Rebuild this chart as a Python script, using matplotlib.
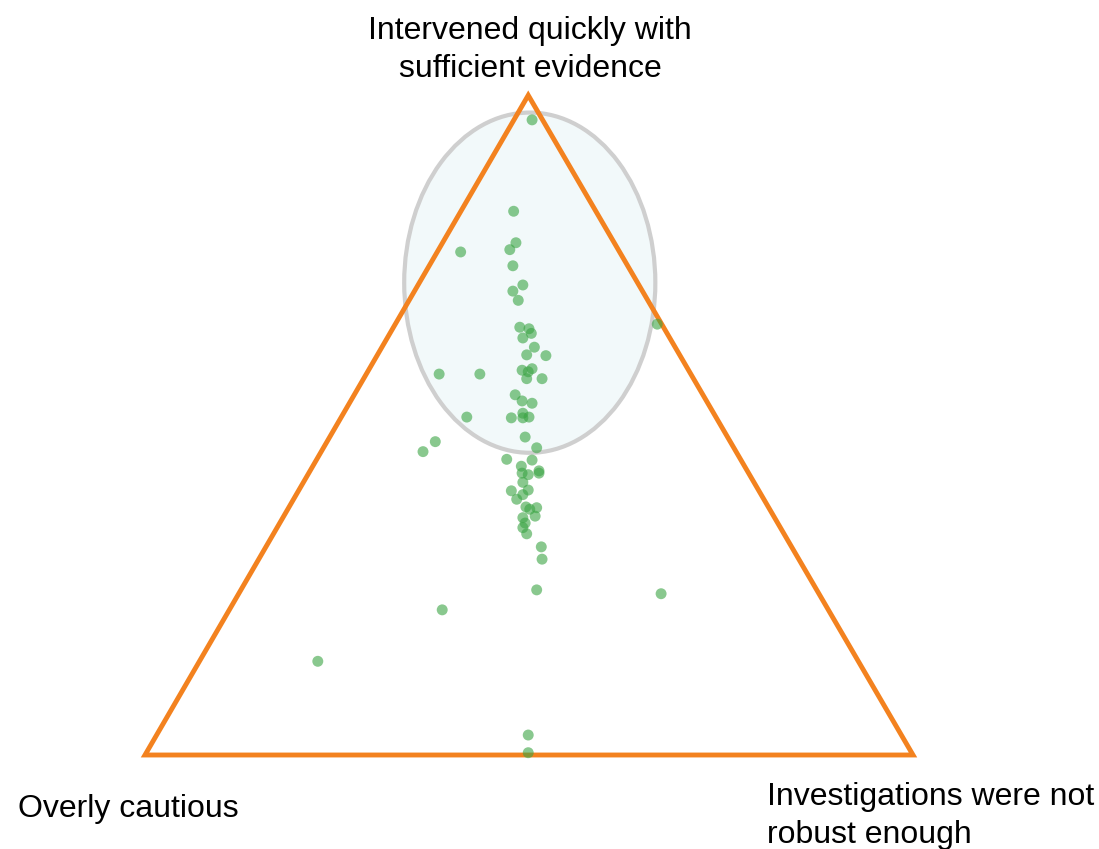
import numpy as np
import matplotlib.pyplot as plt
from matplotlib.patches import Polygon, Ellipse

plt.rcParams['font.family'] = ['Liberation Sans', 'DejaVu Sans']

# Triangle corners (base 0..1) and their labels
corner_labels = ["Overly cautious",
                 "Intervened quickly with\nsufficient evidence",
                 "Investigations were not\nrobust enough"]
corners_x = [0.0, 0.499, 1.0]
corners_y = [0.0, 0.859, 0.0]

# Responses placed inside the triangle
pts_x = [0.504, 0.480, 0.483, 0.475, 0.411, 0.479, 0.492, 0.479, 0.486, 0.488,
         0.500, 0.503, 0.492, 0.507, 0.522, 0.497, 0.383, 0.436, 0.491, 0.504,
         0.499, 0.497, 0.517, 0.667, 0.482, 0.491, 0.504, 0.419, 0.477, 0.492,
         0.492, 0.500, 0.495, 0.510, 0.378, 0.362, 0.471, 0.504, 0.490, 0.491,
         0.499, 0.513, 0.513, 0.492, 0.499, 0.477, 0.492, 0.484, 0.496, 0.510,
         0.501, 0.508, 0.492, 0.495, 0.492, 0.497, 0.516, 0.517, 0.510, 0.672,
         0.225, 0.387, 0.499, 0.499]
pts_y = [0.827, 0.708, 0.667, 0.658, 0.655, 0.637, 0.612, 0.604, 0.592, 0.557,
         0.555, 0.549, 0.543, 0.531, 0.520, 0.521, 0.496, 0.496, 0.501, 0.503,
         0.499, 0.490, 0.490, 0.561, 0.469, 0.461, 0.458, 0.440, 0.439, 0.445,
         0.439, 0.440, 0.414, 0.400, 0.408, 0.395, 0.385, 0.384, 0.376, 0.367,
         0.365, 0.370, 0.367, 0.355, 0.345, 0.344, 0.339, 0.333, 0.323, 0.322,
         0.320, 0.311, 0.309, 0.302, 0.296, 0.288, 0.271, 0.255, 0.215, 0.210,
         0.122, 0.189, 0.026, 0.003]

# Highlighted cluster region
ell_center = (0.501, 0.615)
ell_size = (0.327, 0.443)

W, H = 1099, 849
fig = plt.figure(figsize=(W / 100, H / 100), dpi=100)
ax = fig.add_axes([0, 0, 1, 1])
# pixel 145 -> 0, pixel 913 -> 1 ; pixel row 755 -> 0
scale = 768.0
ax.set_xlim(-145 / scale, (W - 145) / scale)
ax.set_ylim((755 - H) / scale, 755 / scale)
ax.axis("off")

ax.add_patch(Ellipse(ell_center, ell_size[0], ell_size[1],
                     facecolor="#f2f9fa", edgecolor="#cfcfcf", lw=3, zorder=1))
ax.add_patch(Polygon(np.column_stack([corners_x, corners_y]), closed=True,
                     fill=False, edgecolor="#f3821f", lw=3.5, joinstyle="miter",
                     zorder=2))
ax.scatter(pts_x, pts_y, s=62, color="#3aa443", alpha=0.6, edgecolors="none",
           zorder=3)


def px(x, y):
    return x / W, 1 - y / H


fig.text(*px(18, 817), corner_labels[0], fontsize=23, ha="left",
         va="baseline")
fig.text(*px(530, 16), corner_labels[1], fontsize=23, ha="center", va="top",
         linespacing=1.34)
fig.text(*px(767, 782), corner_labels[2], fontsize=23, ha="left", va="top",
         linespacing=1.34)

fig.savefig("out.png", dpi=100, facecolor="white")
